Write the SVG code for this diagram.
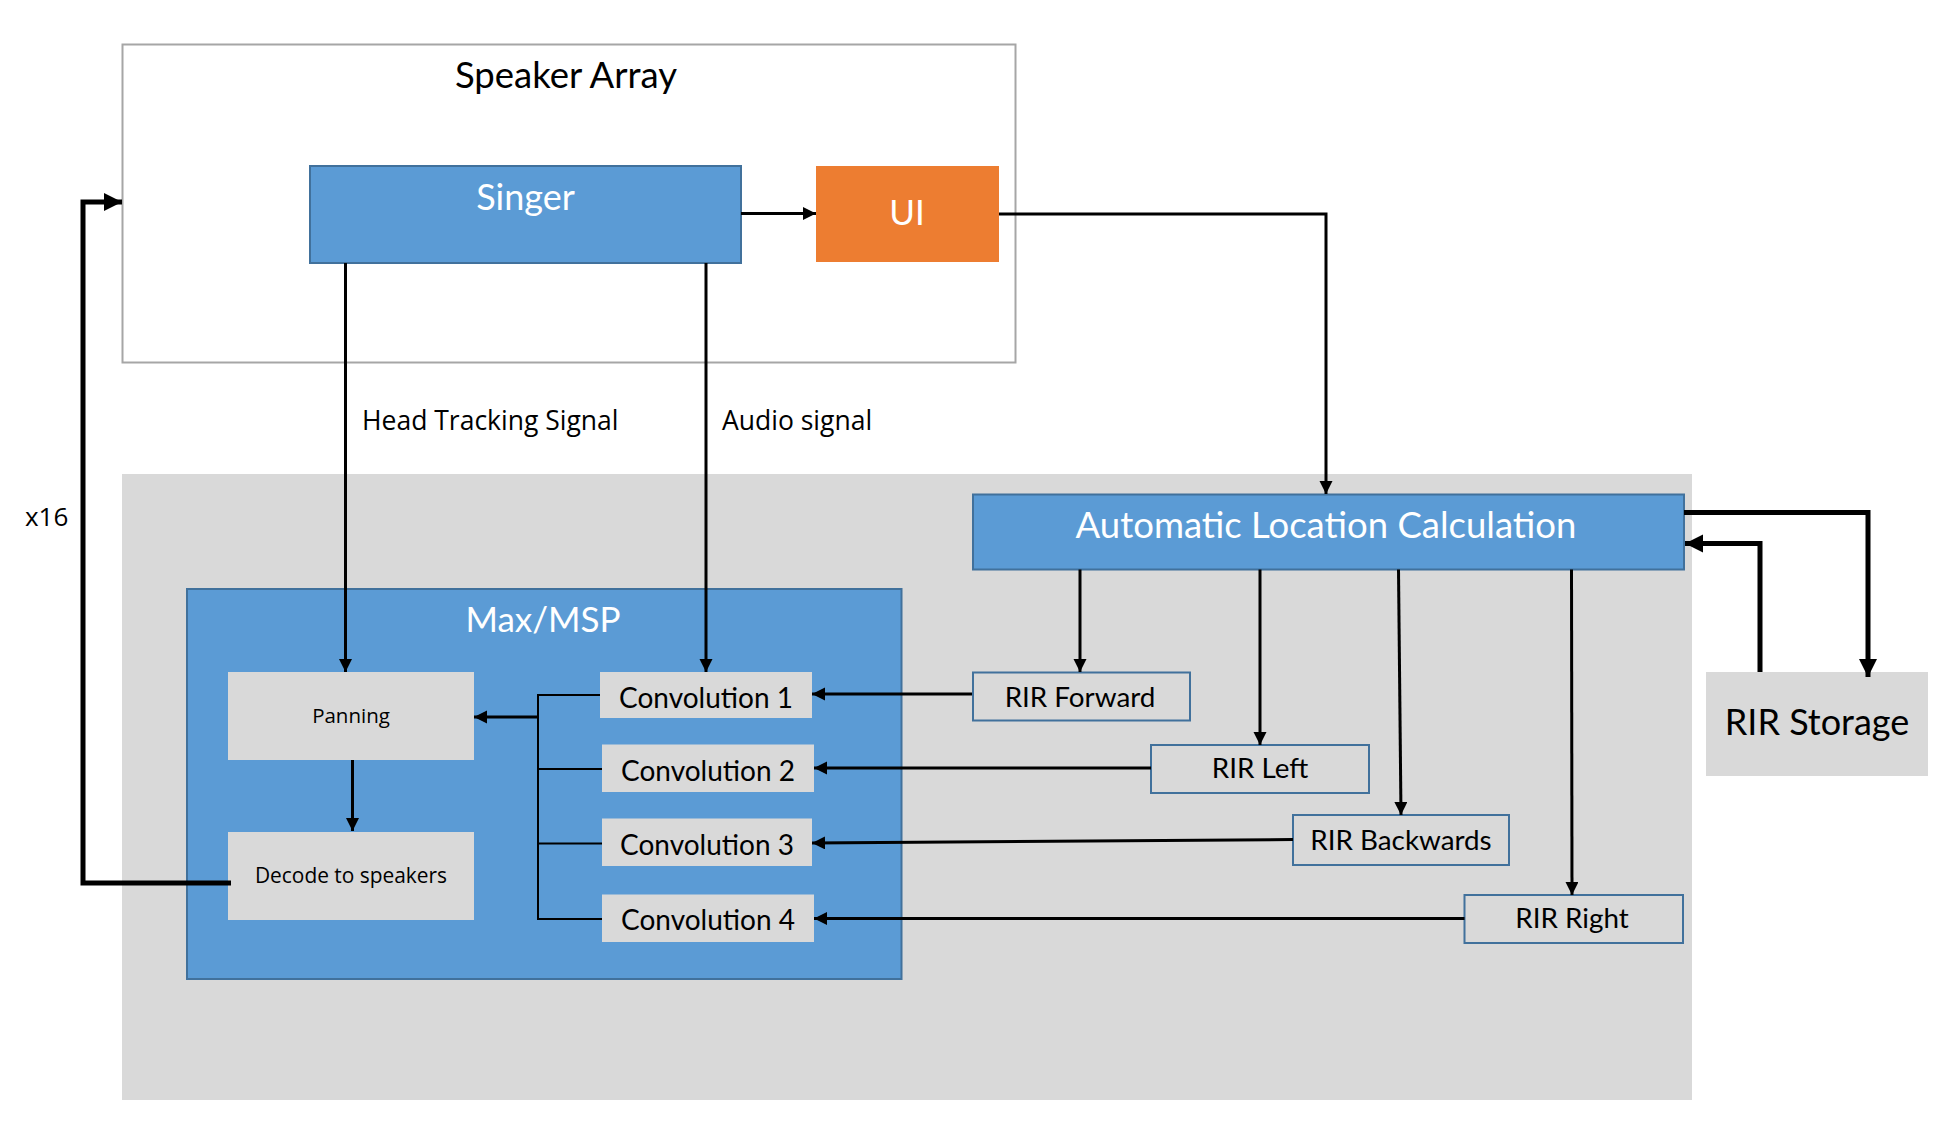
<svg xmlns="http://www.w3.org/2000/svg" width="1944" height="1148" viewBox="0 0 1944 1148">
<defs>
<marker id="ah" markerUnits="userSpaceOnUse" markerWidth="14" markerHeight="14" refX="13" refY="6.5" orient="auto">
<path d="M0,0 L13,6.5 L0,13 z" fill="#000"/>
</marker>
<marker id="ahb" markerUnits="userSpaceOnUse" markerWidth="20" markerHeight="20" refX="18" refY="9" orient="auto">
<path d="M0,0 L18,9 L0,18 z" fill="#000"/>
</marker>
</defs>
<style>
.blue{fill:#5b9bd5;stroke:#41719c;stroke-width:2}
.gray{fill:#d9d9d9}
.rir{fill:#d9d9d9;stroke:#41719c;stroke-width:2}
.cal{font-family:Lato,"Liberation Sans",sans-serif}
.seg{font-family:"Open Sans","Liberation Sans",sans-serif}
.w{fill:#fff}
.k{fill:#000}
.c{text-anchor:middle}
.ln{fill:none;stroke:#000;stroke-width:3}
.thin{fill:none;stroke:#000;stroke-width:2}
.thick{fill:none;stroke:#000;stroke-width:5}
</style>
<rect width="1944" height="1148" fill="#fff"/>
<g id="speaker-array">
<rect x="122.5" y="44.5" width="893" height="318" fill="#fff" stroke="#a6a6a6" stroke-width="2"/>
<text class="cal k c" x="566" y="88" font-size="36.5">Speaker Array</text>
</g>
<g id="processing-area">
<rect class="gray" x="122" y="474" width="1570" height="626"/>
</g>
<g id="singer">
<rect class="blue" x="310" y="166" width="431" height="97"/>
<text class="cal w c" x="525.5" y="210" font-size="36">Singer</text>
</g>
<g id="ui">
<rect x="816" y="166" width="183" height="96" fill="#ed7d31"/>
<text class="cal w c" x="907" y="225" font-size="35">UI</text>
</g>
<g id="maxmsp">
<rect class="blue" x="187" y="589" width="714.5" height="390"/>
<text class="cal w c" x="543" y="632" font-size="35">Max/MSP</text>
</g>
<g id="panning">
<rect class="gray" x="228" y="672" width="246" height="88"/>
<text class="seg k c" x="351" y="723" font-size="20.5">Panning</text>
</g>
<g id="decode">
<rect class="gray" x="228" y="832" width="246" height="88"/>
<text class="seg k c" x="351" y="883" font-size="20.9">Decode to speakers</text>
</g>
<g id="conv1">
<rect class="gray" x="600" y="672" width="212" height="46"/>
<text class="cal k c" x="706" y="707.5" font-size="28">Convolution 1</text>
</g>
<g id="conv2">
<rect class="gray" x="602" y="744.5" width="212" height="47.5"/>
<text class="cal k c" x="708" y="781" font-size="28">Convolution 2</text>
</g>
<g id="conv3">
<rect class="gray" x="602" y="818.5" width="210" height="47.5"/>
<text class="cal k c" x="707" y="855" font-size="28">Convolution 3</text>
</g>
<g id="conv4">
<rect class="gray" x="602" y="894.5" width="212" height="47.5"/>
<text class="cal k c" x="708" y="930" font-size="28">Convolution 4</text>
</g>
<g id="alc">
<rect class="blue" x="973" y="494.5" width="711" height="75"/>
<text class="cal w c" x="1326" y="538" font-size="36.5">Automatic Location Calculation</text>
</g>
<g id="rir-forward">
<rect class="rir" x="973" y="672.5" width="217" height="48"/>
<text class="cal k c" x="1080" y="707" font-size="27.8">RIR Forward</text>
</g>
<g id="rir-left">
<rect class="rir" x="1151" y="745" width="218" height="48"/>
<text class="cal k c" x="1260" y="778" font-size="27.8">RIR Left</text>
</g>
<g id="rir-backwards">
<rect class="rir" x="1293" y="815" width="216" height="50"/>
<text class="cal k c" x="1401" y="850" font-size="27.8">RIR Backwards</text>
</g>
<g id="rir-right">
<rect class="rir" x="1464.5" y="895" width="218.5" height="48"/>
<text class="cal k c" x="1572" y="928" font-size="27.8">RIR Right</text>
</g>
<g id="rir-storage">
<rect class="gray" x="1706" y="672" width="222" height="104"/>
<text class="cal k c" x="1817" y="735" font-size="36">RIR Storage</text>
</g>
<g id="connectors">
<line class="ln" x1="741" y1="213.5" x2="816" y2="213.5" marker-end="url(#ah)"/>
<polyline class="ln" points="999,214 1326,214 1326,494" marker-end="url(#ah)"/>
<line class="ln" x1="345.5" y1="263" x2="345.5" y2="672" marker-end="url(#ah)"/>
<line class="ln" x1="706" y1="263" x2="706" y2="672" marker-end="url(#ah)"/>
<polyline class="thick" points="231,883 83,883 83,202 122,202" marker-end="url(#ahb)"/>
<line class="ln" x1="352.5" y1="760" x2="352.5" y2="831" marker-end="url(#ah)"/>
<polyline class="thin" points="600,695 538,695 538,919 602,919"/>
<line class="thin" x1="538" y1="769" x2="602" y2="769"/>
<line class="thin" x1="538" y1="843.5" x2="602" y2="843.5"/>
<line class="ln" x1="538" y1="717" x2="474" y2="717" marker-end="url(#ah)"/>
<line class="ln" x1="972" y1="694" x2="812" y2="694" marker-end="url(#ah)"/>
<line class="ln" x1="1151" y1="768" x2="814" y2="768" marker-end="url(#ah)"/>
<line class="ln" x1="1293" y1="839.5" x2="812" y2="843" marker-end="url(#ah)"/>
<line class="ln" x1="1464.5" y1="918.5" x2="814" y2="918.5" marker-end="url(#ah)"/>
<line class="ln" x1="1080" y1="569.5" x2="1080" y2="672" marker-end="url(#ah)"/>
<line class="ln" x1="1260" y1="569.5" x2="1260" y2="745" marker-end="url(#ah)"/>
<line class="ln" x1="1398.5" y1="569.5" x2="1401" y2="815" marker-end="url(#ah)"/>
<line class="ln" x1="1571.5" y1="569.5" x2="1572" y2="895" marker-end="url(#ah)"/>
<polyline class="thick" points="1684,512.5 1868,512.5 1868,677" marker-end="url(#ahb)"/>
<polyline class="thick" points="1760,672 1760,543.5 1685,543.5" marker-end="url(#ahb)"/>
</g>
<g id="labels">
<text class="seg k" x="362" y="430" font-size="26.5">Head Tracking Signal</text>
<text class="seg k" x="722" y="430" font-size="26.5">Audio signal</text>
<text class="seg k" x="25" y="526" font-size="26">x16</text>
</g>
</svg>
